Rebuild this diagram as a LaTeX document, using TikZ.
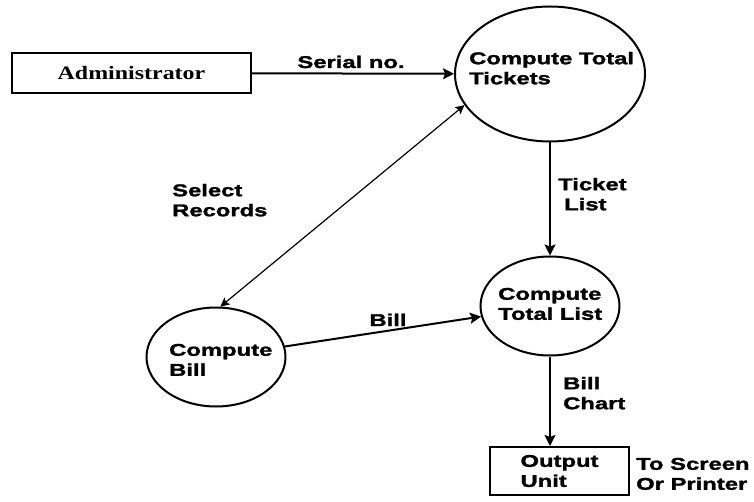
\documentclass[tikz,border=0pt]{standalone}
\usepackage{fontspec}
\usetikzlibrary{shapes.geometric,arrows.meta}
\newfontfamily\lab[FakeStretch=1.4,BoldFeatures={FakeBold=1.6}]{Liberation Sans}
\newfontfamily\admfont[FakeStretch=1.26]{Liberation Serif}
\begin{document}
\begin{tikzpicture}[x=1pt,y=-1pt,
  proc/.style={ellipse,draw,line width=2pt,inner sep=0pt},
  ent/.style={rectangle,draw,line width=2pt,inner sep=0pt},
  lbl/.style={inner sep=0pt,align=left,font=\lab\bfseries\fontsize{17}{20}\selectfont},
  flow/.style={line width=2pt,-{Stealth[length=11pt,width=11pt,inset=2pt]}},
  thinflow/.style={line width=1.2pt,{Stealth[length=9pt,width=9pt,inset=2pt]}-{Stealth[length=9pt,width=9pt,inset=2pt]}}]
\useasboundingbox (0,0) rectangle (754,502);
\fill[white] (0,0) rectangle (754,502);

% entities
\node[ent, minimum width=239pt, minimum height=40pt,
      font=\admfont\bfseries\fontsize{19}{22}\selectfont] (adm) at (131.5,73) {Administrator};
\node[ent, lbl, minimum width=139pt, minimum height=48pt] (out) at (559.5,471) {Output\\Unit};

% processes
\node[proc, minimum width=190pt, minimum height=135pt] (c1) at (550,74) {};
\node[proc, minimum width=139pt, minimum height=99pt] (c2) at (550,306) {};
\node[proc, minimum width=139pt, minimum height=99pt] (c3) at (216,357) {};

\node[lbl, anchor=north west] (c1t) at (469,51.7) {Compute Total\\Tickets};
\node[lbl, anchor=north west] (c2t) at (498,287.7) {Compute\\Total List};
\node[lbl, anchor=north west] (c3t) at (169,343.7) {Compute\\Bill};

% flows
\draw[flow] (adm) -- (c1);
\draw[flow] (c1) -- (c2);
\draw[flow] (c2.south) -- (c2.south |- out.north);
\draw[flow] (c3) -- (c2);
\draw[thinflow] (c1.200) -- (c3.85);

% flow labels
\node[lbl, anchor=base] (l1) at (351,68) {Serial no.};
\node[lbl, anchor=north west] (l2) at (172,183.7) {Select\\Records};
\node[lbl, anchor=north west] (l3) at (558,177.7) {Ticket\\\hspace{6pt}List};
\node[lbl, anchor=base] (l4) at (388,326) {Bill};
\node[lbl, anchor=north west] (l5) at (563,376.7) {Bill\\Chart};
\node[lbl, anchor=north west] (l6) at (636,457.7) {To Screen\\Or Printer};
\end{tikzpicture}
\end{document}
